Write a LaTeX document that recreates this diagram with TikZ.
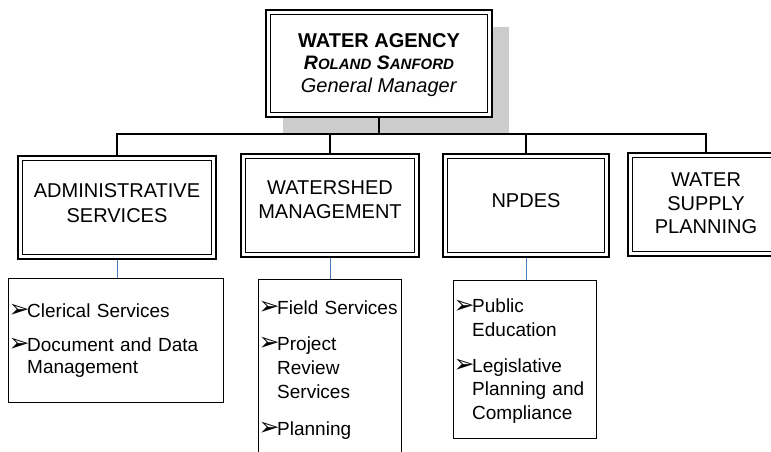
\documentclass[tikz,border=0pt]{standalone}
\usepackage{fontspec}
\setmainfont{Liberation Sans}
\newfontfamily\dingfont{DejaVu Sans}
\definecolor{linkblue}{RGB}{74,126,187}
\definecolor{shadowgray}{RGB}{204,204,204}
\newlength\bulw
\setlength\bulw{17pt}
\newcommand\itm[1]{\par\hangindent=\bulw\hangafter=1\noindent\makebox[\bulw][l]{\hspace*{-1.5pt}\raisebox{-0.5pt}{\dingfont\fontsize{25}{25}\selectfont ➢}}#1\par}
\newcommand\smc[2]{{\fontsize{19.5}{22.5}\selectfont #1}{\fontsize{15}{22.5}\selectfont #2}}
\begin{document}
\begin{tikzpicture}[x=1pt,y=-1pt,
  box/.style={draw, line width=1.8pt, fill=white, inner sep=0pt, rectangle},
  lst/.style={draw, line width=1pt, fill=white, inner sep=0pt, rectangle},
  conn/.style={line width=1.3pt},
  bconn/.style={line width=1pt, draw=linkblue},
  head/.style={align=center, inner sep=0pt, anchor=north},
  items/.style={text width=180pt, inner sep=0pt, anchor=north west}]
\useasboundingbox (0,0) rectangle (771,452);
\clip (0,0) rectangle (771,452);
% shadow of the top box
\fill[shadowgray] (283,27) rectangle (509,134);
% boxes
\node[box, minimum width=226pt, minimum height=107pt] (gm) at (379,63.5) {};
\node[box, minimum width=198pt, minimum height=103pt] (adm) at (117,207.5) {};
\node[box, minimum width=178pt, minimum height=103pt] (ws) at (330,205.5) {};
\node[box, minimum width=166pt, minimum height=103pt] (np) at (526,205.5) {};
\node[box, minimum width=156pt, minimum height=103pt] (wsp) at (706,204.5) {};
\foreach \n in {gm,adm,ws,np,wsp}
  \draw[line width=0.9pt] ([shift={(5pt,5pt)}]\n.south west) rectangle ([shift={(-5pt,-5pt)}]\n.north east);
% list boxes
\node[lst, minimum width=215pt, minimum height=124pt] (admL) at (116,340.5) {};
\node[lst, minimum width=143pt, minimum height=200pt] (wsL) at (330,379.5) {};
\node[lst, minimum width=143pt, minimum height=158pt] (npL) at (525,359.5) {};
% connectors
\coordinate (bus) at (378,134);
\draw[conn] (gm.south) -- (gm.south |- bus);
\draw[conn] (adm.north) -- (adm.north |- bus) -- (wsp.north |- bus) -- (wsp.north);
\draw[conn] (ws.north) -- (ws.north |- bus);
\draw[conn] (np.north) -- (np.north |- bus);
\draw[bconn] (adm.south) -- (adm.south |- admL.north);
\draw[bconn] (ws.south) -- (ws.south |- wsL.north);
\draw[bconn] (np.south) -- (np.south |- npL.north);
% heading texts
\node[head, font=\fontsize{20}{22.5}\selectfont] (gmT) at (379,33)
  {\textbf{WATER AGENCY}\\\textbf{\textit{\smc{R}{OLAND} \smc{S}{ANFORD}}}\\\textit{General Manager}};
\node[head, font=\fontsize{20}{25}\selectfont] (admT) at (117,183) {ADMINISTRATIVE\\SERVICES};
\node[head, font=\fontsize{20}{24}\selectfont] (wsT) at (330,180) {WATERSHED\\MANAGEMENT};
\node[head, font=\fontsize{20}{24}\selectfont] (npT) at (526,193) {NPDES};
\node[head, font=\fontsize{20}{23.3}\selectfont] (wspT) at (706,173) {WATER\\SUPPLY\\PLANNING};
% list texts
\node[items, text width=210pt, font=\fontsize{19}{22}\selectfont] (admI) at (10,295)
  {\itm{Clerical Services}\vspace{12pt}\itm{Document and Data\newline Management}};
\node[items, font=\fontsize{19}{24}\selectfont] (wsI) at (260,290)
  {\itm{Field Services}\vspace{12pt}\itm{Project\newline Review\newline Services}\vspace{13pt}\itm{Planning}};
\node[items, font=\fontsize{19}{23.5}\selectfont] (npI) at (455,289)
  {\itm{Public\newline Education}\vspace{12.5pt}\itm{Legislative\newline Planning and\newline Compliance}};
\end{tikzpicture}
\end{document}
